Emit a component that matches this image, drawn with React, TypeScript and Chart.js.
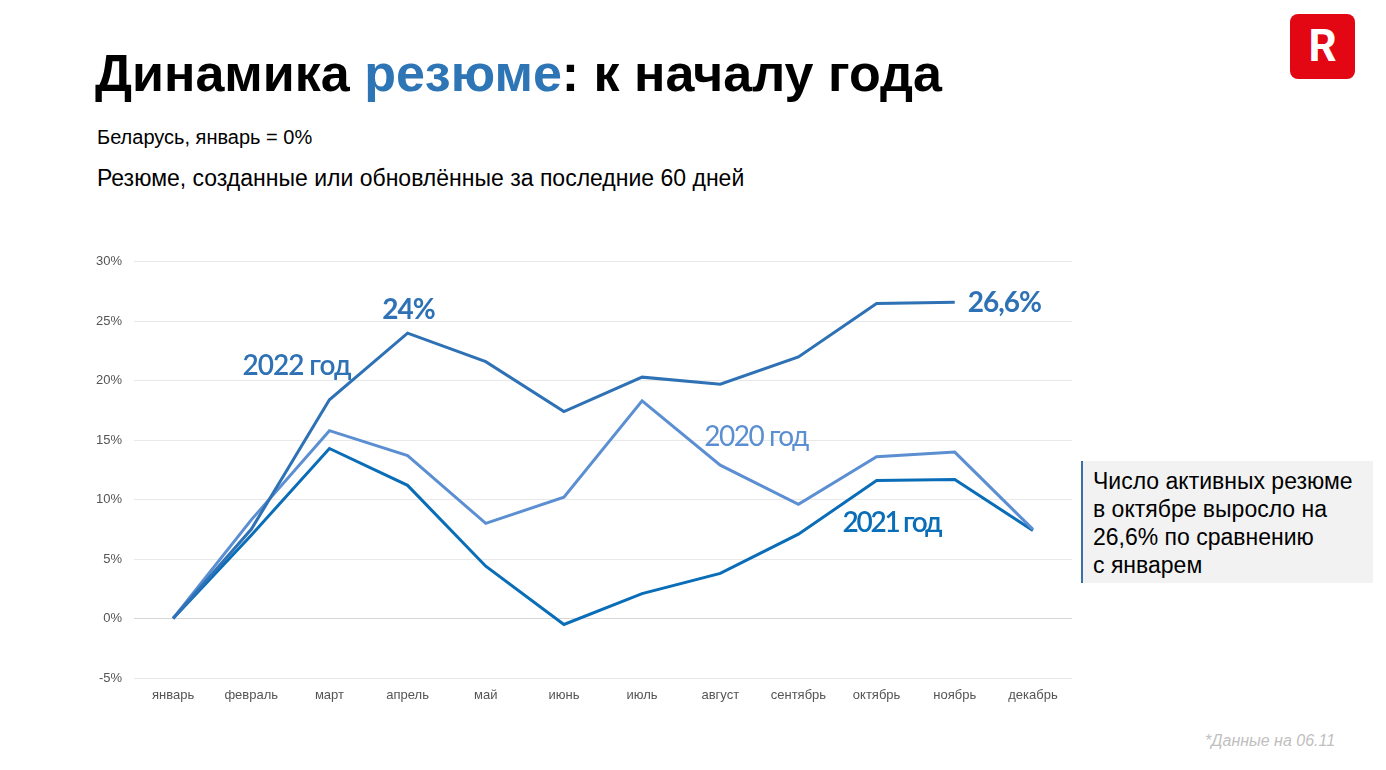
import React, { useEffect, useRef } from 'react';
import { Chart, registerables } from 'chart.js';

Chart.register(...registerables);

const months = ['январь', 'февраль', 'март', 'апрель', 'май', 'июнь', 'июль', 'август', 'сентябрь', 'октябрь', 'ноябрь', 'декабрь'];
const values2022 = [0, 7.5, 18.4, 24.0, 21.6, 17.4, 20.3, 19.7, 22.0, 26.5, 26.6, null];
const values2020 = [0, 8.3, 15.8, 13.7, 8.0, 10.2, 18.3, 12.9, 9.6, 13.6, 14.0, 7.5];
const values2021 = [0, 7.0, 14.3, 11.2, 4.4, -0.5, 2.1, 3.8, 7.1, 11.6, 11.7, 7.4];
const yMin = -5;
const yMax = 30;
const yStep = 5;

const color2022 = '#2E72B5';
const color2020 = '#5B8FD2';
const color2021 = '#0A6DB8';

// text annotations anchored to data points: [text, datasetIndex, pointIndex]
const annotationTexts = ['2022 год', '24%', '26,6%', '2020 год', '2021 год'];
const annotationAnchors: [number, number][] = [[0, 2], [0, 3], [0, 10], [1, 7], [2, 9]];
const annotationStyles = [
  { dx: -87, dy: -34, align: 'left', font: '600 28px Lato', color: color2022, spacing: '-1px' },
  { dx: 1, dy: -23, align: 'center', font: 'bold 28px Lato', color: color2022, spacing: '-1px' },
  { dx: 13, dy: 1, align: 'left', font: 'bold 28px Lato', color: color2022, spacing: '-1px' },
  { dx: -16, dy: -28, align: 'left', font: '28px Lato', color: color2020, spacing: '-1.5px' },
  { dx: -34, dy: 42, align: 'left', font: '600 28px Lato', color: color2021, spacing: '-2.3px' },
];

const labelPlugin = {
  id: 'lineLabels',
  afterDatasetsDraw(chart: any) {
    const ctx = chart.ctx;
    ctx.save();
    annotationTexts.forEach((t, i) => {
      const [ds, pt] = annotationAnchors[i];
      const el = chart.getDatasetMeta(ds).data[pt];
      if (!el) return;
      const s = annotationStyles[i];
      ctx.font = s.font;
      ctx.fillStyle = s.color;
      ctx.textAlign = s.align;
      ctx.textBaseline = 'middle';
      try { (ctx as any).letterSpacing = s.spacing; } catch (e) {}
      ctx.fillText(t, el.x + s.dx, el.y + s.dy);
    });
    ctx.restore();
  },
};

function LineChart() {
  const ref = useRef<HTMLCanvasElement>(null);
  useEffect(() => {
    if (!ref.current) return;
    const chart = new Chart(ref.current, {
      type: 'line',
      data: {
        labels: months,
        datasets: [
          { label: '2022', data: values2022, borderColor: color2022, borderWidth: 3, pointRadius: 0, tension: 0, fill: false },
          { label: '2020', data: values2020, borderColor: color2020, borderWidth: 3, pointRadius: 0, tension: 0, fill: false },
          { label: '2021', data: values2021, borderColor: color2021, borderWidth: 3, pointRadius: 0, tension: 0, fill: false },
        ],
      },
      options: {
        animation: false,
        responsive: false,
        maintainAspectRatio: false,
        layout: { padding: { top: 14, right: 8, left: 0, bottom: 0 } },
        plugins: { legend: { display: false }, tooltip: { enabled: false } },
        scales: {
          x: {
            offset: true,
            grid: { display: false },
            border: { display: false },
            ticks: { color: '#555555', font: { family: 'Liberation Sans, Arial', size: 13 }, padding: 2, maxRotation: 0 },
            afterFit(scale: any) { scale.height = 29; },
          },
          y: {
            min: yMin,
            max: yMax,
            border: { display: false },
            grid: {
              color: (c: any) => (c.tick && c.tick.value === 0 ? '#d6d6d6' : '#e8e8e8'),
              lineWidth: 1,
              drawTicks: false,
            },
            ticks: {
              stepSize: yStep,
              color: '#555555',
              font: { family: 'Liberation Sans, Arial', size: 13 },
              padding: 12,
              callback: (v: any) => v + '%',
            },
            afterFit(scale: any) { scale.width = 64; },
          },
        },
      },
      plugins: [labelPlugin],
    });
    return () => chart.destroy();
  }, []);
  return <canvas ref={ref} width={1010} height={465} style={{ position: 'absolute', left: 70, top: 242, width: 1010, height: 465 }} />;
}

export default function App() {
  const sans = '"Liberation Sans", Arial, sans-serif';
  return (
    <div style={{ position: 'fixed', left: 0, top: 0, width: 1386, height: 770, background: '#fff', overflow: 'hidden', fontFamily: sans }}>
      <div style={{ position: 'absolute', left: 95, top: 40, fontSize: 52, fontWeight: 'bold', color: '#000', whiteSpace: 'nowrap', lineHeight: '66px' }}>
        Динамика <span style={{ color: '#2E75B6' }}>резюме</span>: к началу года
      </div>
      <div style={{ position: 'absolute', left: 97, top: 126, fontSize: 20, color: '#000', whiteSpace: 'nowrap' }}>Беларусь, январь = 0%</div>
      <div style={{ position: 'absolute', left: 97, top: 165, fontSize: 23, color: '#000', whiteSpace: 'nowrap' }}>Резюме, созданные или обновлённые за последние 60 дней</div>
      <LineChart />
      <div style={{ position: 'absolute', left: 1081, top: 461, width: 292, height: 122, background: '#f2f2f2', borderLeft: '2px solid #3A6FA8', boxSizing: 'border-box', padding: '6px 0 0 10px', fontSize: 23, lineHeight: '28px', color: '#000', whiteSpace: 'nowrap' }}>
        Число активных резюме<br />в октябре выросло на<br />26,6% по сравнению<br />с январем
      </div>
      <div style={{ position: 'absolute', left: 1290, top: 14, width: 65, height: 65, background: '#E30613', borderRadius: 8, color: '#fff', fontWeight: 'bold', fontSize: 44, lineHeight: '65px', textAlign: 'center', fontFamily: 'Roboto, sans-serif' }}>R</div>
      <div style={{ position: 'absolute', left: 1205, top: 732, fontSize: 16, fontStyle: 'italic', color: '#c0c0c0', whiteSpace: 'nowrap' }}>*Данные на 06.11</div>
    </div>
  );
}
